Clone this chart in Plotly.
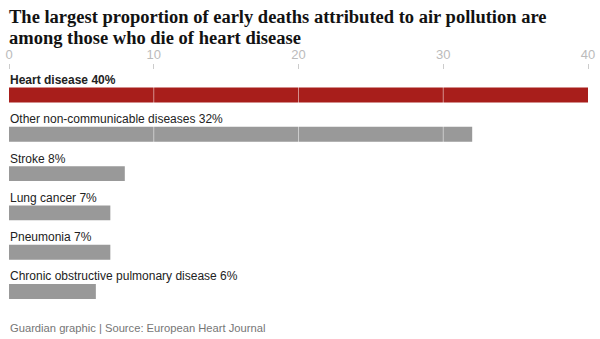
import plotly.graph_objects as go

title_lines = ["The largest proportion of early deaths attributed to air pollution are",
               "among those who die of heart disease"]
categories = ["Heart disease", "Other non-communicable diseases", "Stroke",
              "Lung cancer", "Pneumonia", "Chronic obstructive pulmonary disease"]
values = [40, 32, 8, 7, 7, 6]
tick_vals = [0, 10, 20, 30, 40]
grid_vals = [10, 20, 30]
colors = ["#a81e1b"] + ["#999999"] * 5

idx = list(range(len(categories)))

fig = go.Figure()
fig.add_trace(go.Bar(
    x=values, y=idx, orientation="h", width=0.38,
    marker=dict(color=colors, line=dict(width=0)),
    hoverinfo="skip",
))

annotations = []
for i, (c, v) in enumerate(zip(categories, values)):
    txt = f"{c} {v}%"
    if i == 0:
        txt = f"<b>{txt}</b>"
    annotations.append(dict(
        x=0, y=i, xref="x", yref="y", text=txt, showarrow=False,
        xanchor="left", yanchor="middle", yshift=15, xshift=-1,
        font=dict(family="Liberation Sans, Arial, sans-serif", size=12, color="#222222"),
    ))
annotations.append(dict(
    x=0, y=0, xref="paper", yref="paper", text="Guardian graphic | Source: European Heart Journal",
    showarrow=False, xanchor="left", yanchor="middle", yshift=-18, xshift=-1,
    font=dict(family="Liberation Sans, Arial, sans-serif", size=11.2, color="#767676"),
))
for line, ys in zip(title_lines, [53, 32]):
    annotations.append(dict(
        x=0, y=1, xref="paper", yref="paper", text=f"<b>{line}</b>",
        showarrow=False, xanchor="left", yanchor="middle", yshift=ys, xshift=-2,
        font=dict(family="Liberation Serif, DejaVu Serif, serif", size=18.5, color="#121212"),
    ))

shapes = [dict(type="line", xref="x", yref="paper", x0=g, x1=g, y0=0, y1=1,
               line=dict(color="rgba(255,255,255,0.5)", width=1), layer="above")
          for g in grid_vals]

fig.update_layout(
    width=600, height=339,
    margin=dict(l=9, r=12, t=70, b=29, autoexpand=False),
    paper_bgcolor="white", plot_bgcolor="white",
    showlegend=False,
    xaxis=dict(
        range=[0, 40], side="top", tickvals=tick_vals, showgrid=False, zeroline=False,
        showline=False, ticks="outside", ticklen=5, tickcolor="#cccccc", tickwidth=1,
        tickfont=dict(family="Liberation Sans, Arial, sans-serif", size=13, color="#bbbbbb"),
        fixedrange=True, automargin=False,
    ),
    yaxis=dict(
        range=[5.471, -0.636], showticklabels=False, showgrid=False, zeroline=False,
        showline=False, ticks="", fixedrange=True, automargin=False,
    ),
    annotations=annotations,
    shapes=shapes,
)

fig.write_html("out.html")
